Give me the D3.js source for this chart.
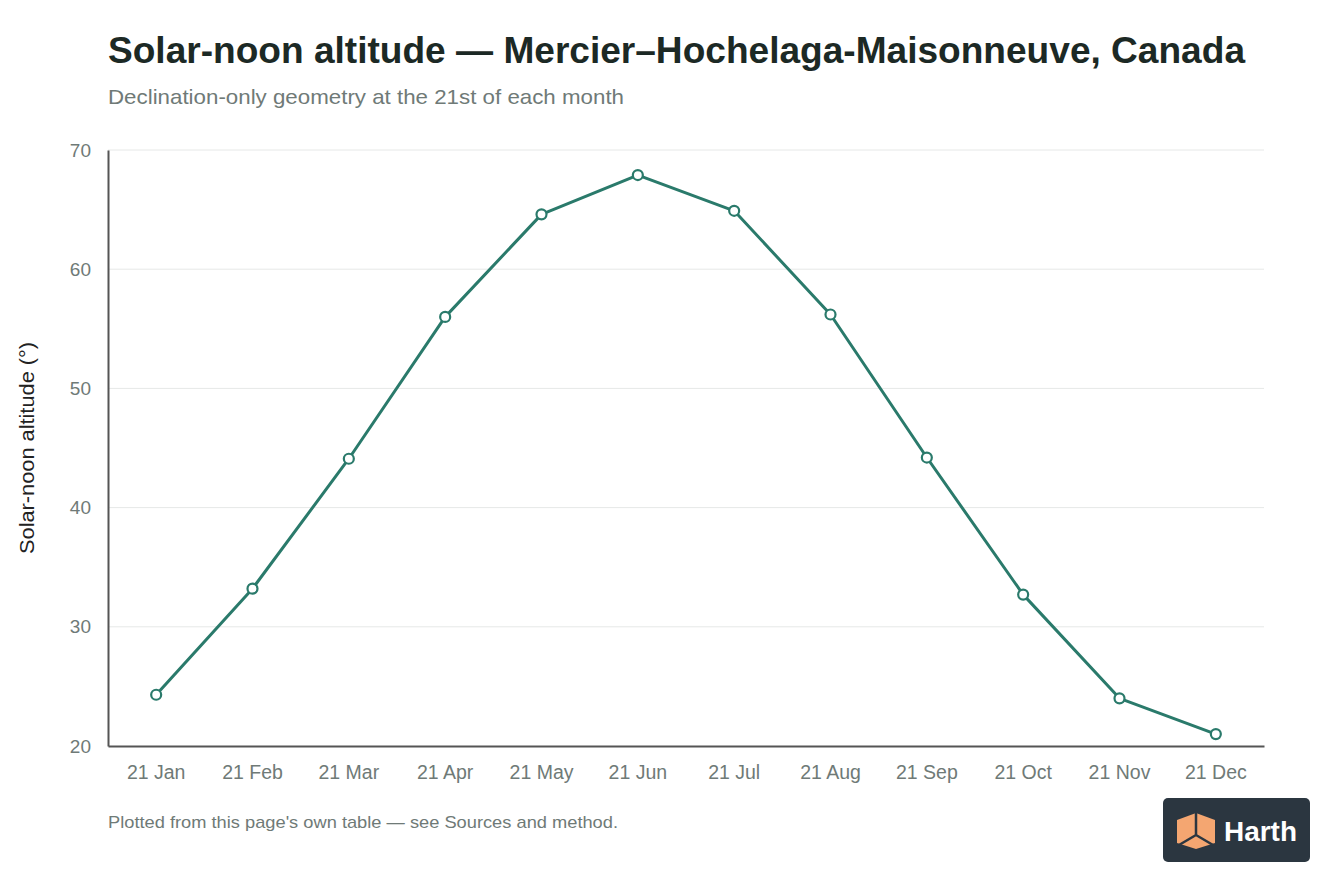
<!DOCTYPE html>
<html>
<head>
<meta charset="utf-8">
<script src="https://cdn.jsdelivr.net/npm/d3@7"></script>
<style>
  html, body { margin: 0; padding: 0; background: #fff; }
  body { width: 1344px; height: 896px; overflow: hidden; font-family: "Liberation Sans", Arial, sans-serif; }
</style>
</head>
<body>
<svg id="chart" width="1344" height="896"></svg>
<script>
// Solar-noon altitude at the 21st of each month (degrees).
const months = ['21 Jan', '21 Feb', '21 Mar', '21 Apr', '21 May', '21 Jun',
                '21 Jul', '21 Aug', '21 Sep', '21 Oct', '21 Nov', '21 Dec'];
const altitude = [24.3, 33.2, 44.1, 56.0, 64.6, 67.9, 64.9, 56.2, 44.2, 32.7, 24.0, 21.0];
const yTicks = [20, 30, 40, 50, 60, 70];

const TEAL = '#2a7a6b';
const GREY = '#6f7a77';
const FONT = '"Liberation Sans", Arial, sans-serif';

const svg = d3.select('#chart');
const margin = { left: 108, right: 80, top: 150, bottom: 150 };
const W = 1344, H = 896;

const x = d3.scaleBand().domain(months).range([margin.left, W - margin.right]).padding(0);
const y = d3.scaleLinear().domain([20, 70]).range([H - margin.bottom, margin.top]);

// Title + subtitle.
svg.append('text')
  .attr('x', 108).attr('y', 63)
  .attr('font-size', 37).attr('font-weight', 700).attr('fill', '#1c2925')
  .attr('textLength', 1137).attr('lengthAdjust', 'spacingAndGlyphs')
  .text('Solar-noon altitude — Mercier–Hochelaga-Maisonneuve, Canada');
svg.append('text')
  .attr('x', 108).attr('y', 104)
  .attr('font-size', 21).attr('fill', GREY)
  .attr('textLength', 516).attr('lengthAdjust', 'spacingAndGlyphs')
  .text('Declination-only geometry at the 21st of each month');

// Gridlines.
svg.append('g')
  .selectAll('line')
  .data(yTicks.filter(t => t > 20))
  .enter().append('line')
    .attr('x1', margin.left).attr('x2', W - margin.right)
    .attr('y1', d => y(d)).attr('y2', d => y(d))
    .attr('stroke', '#e6e8e7').attr('stroke-width', 1);

// Y axis.
const yAxis = svg.append('g')
  .attr('transform', `translate(${margin.left},0)`)
  .call(d3.axisLeft(y).tickValues(yTicks).tickSize(0).tickPadding(17));
yAxis.select('.domain').attr('stroke', '#555').attr('stroke-width', 2);
yAxis.selectAll('text').attr('font-size', 19).attr('fill', GREY).attr('font-family', FONT);

// X axis.
const xAxis = svg.append('g')
  .attr('transform', `translate(0,${y(20)})`)
  .call(d3.axisBottom(x).tickSize(0).tickPadding(19));
xAxis.select('.domain').attr('stroke', '#555').attr('stroke-width', 2);
xAxis.selectAll('text').attr('font-size', 19.5).attr('fill', GREY).attr('font-family', FONT);

// Y axis title.
svg.append('text')
  .attr('transform', `translate(34,${(y(20) + y(70)) / 2}) rotate(-90)`)
  .attr('text-anchor', 'middle')
  .attr('font-size', 21).attr('fill', '#222')
  .attr('textLength', 212).attr('lengthAdjust', 'spacingAndGlyphs')
  .text('Solar-noon altitude (°)');

// Series line + markers.
const cx = (d, i) => x(months[i]) + x.bandwidth() / 2;
const line = d3.line().x(cx).y(d => y(d));
svg.append('path')
  .datum(altitude)
  .attr('d', line)
  .attr('fill', 'none').attr('stroke', TEAL).attr('stroke-width', 3)
  .attr('stroke-linejoin', 'round');
svg.append('g')
  .selectAll('circle')
  .data(altitude)
  .enter().append('circle')
    .attr('cx', cx).attr('cy', d => y(d)).attr('r', 5)
    .attr('fill', '#fff').attr('stroke', TEAL).attr('stroke-width', 2.2);

// Footer note.
svg.append('text')
  .attr('x', 108).attr('y', 828)
  .attr('font-size', 17).attr('fill', GREY)
  .attr('textLength', 510).attr('lengthAdjust', 'spacingAndGlyphs')
  .text("Plotted from this page's own table — see Sources and method.");

// Logo badge.
const logo = svg.append('g').attr('transform', 'translate(1163,798)');
logo.append('rect').attr('width', 147).attr('height', 64).attr('rx', 5).attr('fill', '#2b3640');
const cube = logo.append('g').attr('transform', 'translate(14,15)');
cube.append('path').attr('d', 'M0,7 L19,0 L38,7 L38,30 L19,36 L0,30 Z').attr('fill', '#f4a671');
cube.append('path').attr('d', 'M19,0 L19,22 M19,22 L2,32 M19,22 L36,32')
  .attr('stroke', '#2b3640').attr('stroke-width', 2.5).attr('fill', 'none');
logo.append('text')
  .attr('x', 61).attr('y', 43)
  .attr('font-size', 27).attr('font-weight', 700).attr('fill', '#fff')
  .attr('font-family', FONT)
  .attr('textLength', 73).attr('lengthAdjust', 'spacingAndGlyphs')
  .text('Harth');
</script>
</body>
</html>
